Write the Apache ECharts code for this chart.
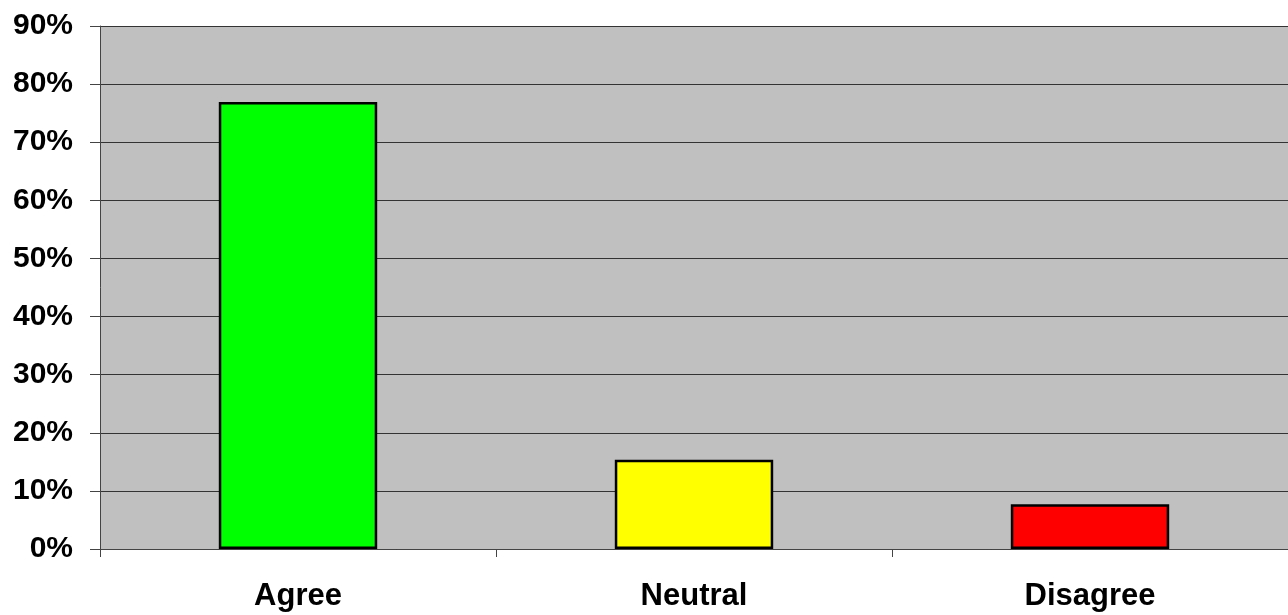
<!DOCTYPE html>
<html>
<head>
<meta charset="utf-8">
<script src="https://cdn.jsdelivr.net/npm/echarts@6/dist/echarts.min.js"></script>
<style>
  html, body { margin: 0; padding: 0; background: #fff; }
  #main { width: 1288px; height: 615px; }
</style>
</head>
<body>
<div id="main"></div>
<script>
var categories = ['Agree', 'Neutral', 'Disagree'];
var shares = [76.92, 15.38, 7.69];
var barColors = ['#00ff00', '#ffff00', '#ff0000'];

var myChart = echarts.init(document.getElementById('main'));

var option = {
    animation: false,
    backgroundColor: '#ffffff',
    grid: {
        left: 100, right: 0, top: 26, bottom: 66,
        show: true, backgroundColor: '#c0c0c0', borderWidth: 0
    },
    xAxis: {
        type: 'category',
        data: categories,
        axisLine: { lineStyle: { color: '#444', width: 1 } },
        axisTick: { show: true, length: 8, lineStyle: { color: '#444' } },
        axisLabel: {
            margin: 32, color: '#000',
            fontFamily: 'Liberation Sans, Arial', fontWeight: 'bold', fontSize: 31
        }
    },
    yAxis: {
        type: 'value',
        min: 0, max: 90, interval: 10,
        axisLine: { show: true, lineStyle: { color: '#444', width: 1 } },
        axisTick: { show: true, length: 10, lineStyle: { color: '#444' } },
        axisLabel: {
            margin: 27, color: '#000', formatter: '{value}%',
            fontFamily: 'Liberation Sans, Arial', fontWeight: 'bold', fontSize: 30
        },
        splitLine: { lineStyle: { color: '#333', width: 1 } }
    },
    series: [{
        type: 'bar',
        barWidth: '40%',
        data: shares.map(function (v, i) {
            return { value: v, itemStyle: { color: barColors[i] } };
        }),
        itemStyle: { borderColor: '#000', borderWidth: 2.5 }
    }]
};

myChart.setOption(option);
</script>
</body>
</html>
